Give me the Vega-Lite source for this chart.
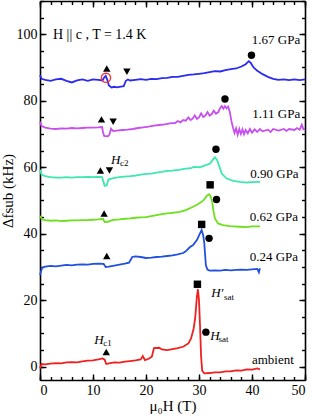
{
  "$schema": "https://vega.github.io/schema/vega-lite/v6.json",
  "width": 265,
  "height": 379,
  "autosize": "none",
  "padding": {"left": 40, "top": 1, "right": 7, "bottom": 36},
  "config": {
    "view": {"stroke": null},
    "font": "Liberation Serif, Times New Roman, DejaVu Serif, serif",
    "text": {"font": "Liberation Serif, Times New Roman, DejaVu Serif, serif"},
    "axis": {"grid": false, "domainColor": "black", "domainWidth": 1.6, "tickColor": "black", "tickWidth": 1.4, "labelColor": "black", "titleColor": "black", "labelFont": "Liberation Serif, Times New Roman, DejaVu Serif, serif", "titleFont": "Liberation Serif, Times New Roman, DejaVu Serif, serif", "labelFontSize": 14, "titleFontSize": 15, "titleFontWeight": "normal"}
  },
  "datasets": {
    "curves": [
      {"c":"ambient","h":0,"f":-0.5},{"c":"ambient","h":0.3,"f":0.8},{"c":"ambient","h":1,"f":0.7},{"c":"ambient","h":2,"f":0.9},{"c":"ambient","h":3,"f":1.1},{"c":"ambient","h":4,"f":1.0},{"c":"ambient","h":5,"f":1.3},{"c":"ambient","h":6,"f":1.4},{"c":"ambient","h":7,"f":1.3},{"c":"ambient","h":8,"f":1.6},{"c":"ambient","h":9,"f":1.8},{"c":"ambient","h":10,"f":1.9},{"c":"ambient","h":11,"f":2.2},{"c":"ambient","h":11.8,"f":2.5},{"c":"ambient","h":12.2,"f":2.1},{"c":"ambient","h":12.5,"f":0.8},{"c":"ambient","h":13,"f":1.0},{"c":"ambient","h":14,"f":1.3},{"c":"ambient","h":15,"f":1.2},{"c":"ambient","h":16,"f":1.5},{"c":"ambient","h":17,"f":1.7},{"c":"ambient","h":18,"f":1.9},{"c":"ambient","h":19,"f":2.2},{"c":"ambient","h":19.4,"f":3.2},{"c":"ambient","h":19.8,"f":2.0},{"c":"ambient","h":20.5,"f":2.4},{"c":"ambient","h":21.1,"f":3.0},{"c":"ambient","h":21.5,"f":5.6},{"c":"ambient","h":22.5,"f":5.7},{"c":"ambient","h":23,"f":5.2},{"c":"ambient","h":24,"f":5.0},{"c":"ambient","h":25,"f":5.3},{"c":"ambient","h":26,"f":5.6},{"c":"ambient","h":27,"f":6.0},{"c":"ambient","h":28,"f":7.0},{"c":"ambient","h":28.5,"f":8.5},{"c":"ambient","h":29,"f":11.5},{"c":"ambient","h":29.3,"f":15},{"c":"ambient","h":29.6,"f":21},{"c":"ambient","h":29.8,"f":23.3},{"c":"ambient","h":30.0,"f":20},{"c":"ambient","h":30.2,"f":12},{"c":"ambient","h":30.4,"f":3},{"c":"ambient","h":30.6,"f":-1.2},{"c":"ambient","h":31,"f":-2.0},{"c":"ambient","h":32,"f":-1.9},{"c":"ambient","h":33,"f":-1.7},{"c":"ambient","h":34,"f":-1.7},{"c":"ambient","h":35,"f":-1.4},{"c":"ambient","h":36,"f":-1.4},{"c":"ambient","h":37,"f":-1.1},{"c":"ambient","h":38,"f":-1.2},{"c":"ambient","h":39,"f":-0.8},{"c":"ambient","h":40,"f":-0.9},{"c":"ambient","h":41,"f":-0.5},{"c":"ambient","h":41.5,"f":-0.8},
      {"c":"0.24","h":0,"f":27.6},{"c":"0.24","h":0.4,"f":29.8},{"c":"0.24","h":1,"f":30.1},{"c":"0.24","h":2,"f":30.3},{"c":"0.24","h":3,"f":30.2},{"c":"0.24","h":4,"f":30.4},{"c":"0.24","h":5,"f":30.6},{"c":"0.24","h":6,"f":30.5},{"c":"0.24","h":7,"f":30.7},{"c":"0.24","h":8,"f":30.8},{"c":"0.24","h":9,"f":30.7},{"c":"0.24","h":10,"f":30.9},{"c":"0.24","h":11,"f":31.0},{"c":"0.24","h":12,"f":30.9},{"c":"0.24","h":12.4,"f":30.0},{"c":"0.24","h":13,"f":30.1},{"c":"0.24","h":14,"f":30.4},{"c":"0.24","h":15,"f":30.7},{"c":"0.24","h":16,"f":31.0},{"c":"0.24","h":16.8,"f":31.3},{"c":"0.24","h":17.4,"f":33.0},{"c":"0.24","h":18,"f":33.2},{"c":"0.24","h":19,"f":33.0},{"c":"0.24","h":20,"f":32.7},{"c":"0.24","h":21,"f":32.8},{"c":"0.24","h":22,"f":33.0},{"c":"0.24","h":23,"f":33.1},{"c":"0.24","h":24,"f":33.3},{"c":"0.24","h":25,"f":33.5},{"c":"0.24","h":26,"f":33.8},{"c":"0.24","h":27,"f":34.2},{"c":"0.24","h":27.5,"f":34.7},{"c":"0.24","h":28.3,"f":36.0},{"c":"0.24","h":28.9,"f":36.6},{"c":"0.24","h":29.6,"f":38.1},{"c":"0.24","h":30.1,"f":39.8},{"c":"0.24","h":30.5,"f":41.1},{"c":"0.24","h":30.8,"f":39.5},{"c":"0.24","h":31.0,"f":37.0},{"c":"0.24","h":31.3,"f":30.5},{"c":"0.24","h":31.6,"f":29.2},{"c":"0.24","h":32,"f":28.9},{"c":"0.24","h":33,"f":29.0},{"c":"0.24","h":34,"f":28.9},{"c":"0.24","h":35,"f":29.1},{"c":"0.24","h":36,"f":29.0},{"c":"0.24","h":37,"f":29.1},{"c":"0.24","h":38,"f":29.2},{"c":"0.24","h":39,"f":29.1},{"c":"0.24","h":40,"f":29.3},{"c":"0.24","h":41,"f":29.4},{"c":"0.24","h":41.3,"f":28.4},{"c":"0.24","h":41.5,"f":29.6},
      {"c":"0.62","h":0,"f":45.3},{"c":"0.62","h":0.4,"f":44.3},{"c":"0.62","h":1,"f":44.1},{"c":"0.62","h":2,"f":43.9},{"c":"0.62","h":3,"f":44.0},{"c":"0.62","h":4,"f":43.8},{"c":"0.62","h":5,"f":43.9},{"c":"0.62","h":6,"f":44.0},{"c":"0.62","h":7,"f":44.0},{"c":"0.62","h":8,"f":44.1},{"c":"0.62","h":9,"f":44.1},{"c":"0.62","h":10,"f":44.2},{"c":"0.62","h":11,"f":44.3},{"c":"0.62","h":11.9,"f":44.5},{"c":"0.62","h":12.2,"f":43.5},{"c":"0.62","h":12.8,"f":43.6},{"c":"0.62","h":13.5,"f":44.0},{"c":"0.62","h":14,"f":44.2},{"c":"0.62","h":15,"f":44.3},{"c":"0.62","h":16,"f":44.5},{"c":"0.62","h":17,"f":44.6},{"c":"0.62","h":18,"f":44.8},{"c":"0.62","h":19,"f":44.9},{"c":"0.62","h":20,"f":45.0},{"c":"0.62","h":21,"f":45.3},{"c":"0.62","h":22,"f":45.6},{"c":"0.62","h":23,"f":45.9},{"c":"0.62","h":24,"f":46.1},{"c":"0.62","h":25,"f":46.3},{"c":"0.62","h":26.4,"f":46.6},{"c":"0.62","h":27.5,"f":47.1},{"c":"0.62","h":28.9,"f":48.1},{"c":"0.62","h":29.7,"f":48.8},{"c":"0.62","h":30.5,"f":49.6},{"c":"0.62","h":31.0,"f":50.3},{"c":"0.62","h":31.4,"f":51.3},{"c":"0.62","h":31.9,"f":51.9},{"c":"0.62","h":32.2,"f":51.3},{"c":"0.62","h":32.5,"f":49.5},{"c":"0.62","h":32.7,"f":47.1},{"c":"0.62","h":33.0,"f":44.6},{"c":"0.62","h":33.6,"f":43.1},{"c":"0.62","h":34.5,"f":42.6},{"c":"0.62","h":35.8,"f":42.3},{"c":"0.62","h":37.7,"f":42.1},{"c":"0.62","h":39,"f":42.0},{"c":"0.62","h":40,"f":42.2},{"c":"0.62","h":41.5,"f":42.2},
      {"c":"0.90","h":0,"f":59.2},{"c":"0.90","h":0.3,"f":57.8},{"c":"0.90","h":1,"f":57.3},{"c":"0.90","h":2,"f":57.0},{"c":"0.90","h":3,"f":56.9},{"c":"0.90","h":4,"f":56.9},{"c":"0.90","h":5,"f":57.0},{"c":"0.90","h":6,"f":56.9},{"c":"0.90","h":7,"f":57.0},{"c":"0.90","h":8,"f":57.0},{"c":"0.90","h":9,"f":57.1},{"c":"0.90","h":10,"f":57.0},{"c":"0.90","h":11,"f":57.1},{"c":"0.90","h":11.7,"f":57.0},{"c":"0.90","h":12.0,"f":55.5},{"c":"0.90","h":12.2,"f":54.4},{"c":"0.90","h":12.6,"f":54.6},{"c":"0.90","h":12.9,"f":56.3},{"c":"0.90","h":13.5,"f":56.6},{"c":"0.90","h":14,"f":56.8},{"c":"0.90","h":15,"f":57.0},{"c":"0.90","h":16,"f":57.2},{"c":"0.90","h":17,"f":57.3},{"c":"0.90","h":18,"f":57.5},{"c":"0.90","h":19,"f":57.8},{"c":"0.90","h":20,"f":58.0},{"c":"0.90","h":21,"f":58.1},{"c":"0.90","h":22,"f":58.4},{"c":"0.90","h":23,"f":58.6},{"c":"0.90","h":24,"f":58.9},{"c":"0.90","h":25,"f":59.0},{"c":"0.90","h":26.4,"f":59.3},{"c":"0.90","h":27.5,"f":59.6},{"c":"0.90","h":28.5,"f":59.7},{"c":"0.90","h":29,"f":60.1},{"c":"0.90","h":30.2,"f":60.0},{"c":"0.90","h":31,"f":60.5},{"c":"0.90","h":32.1,"f":61.1},{"c":"0.90","h":32.6,"f":62.2},{"c":"0.90","h":33,"f":63.0},{"c":"0.90","h":33.4,"f":62.2},{"c":"0.90","h":33.8,"f":60.4},{"c":"0.90","h":34.3,"f":58.1},{"c":"0.90","h":35.2,"f":56.6},{"c":"0.90","h":36.5,"f":55.9},{"c":"0.90","h":37.7,"f":55.6},{"c":"0.90","h":39,"f":55.4},{"c":"0.90","h":40,"f":55.5},{"c":"0.90","h":41.5,"f":55.6},
      {"c":"1.11","h":0,"f":73.7},{"c":"1.11","h":0.3,"f":72.4},{"c":"1.11","h":1,"f":71.9},{"c":"1.11","h":2,"f":71.6},{"c":"1.11","h":3,"f":71.5},{"c":"1.11","h":4,"f":71.7},{"c":"1.11","h":5,"f":71.6},{"c":"1.11","h":6,"f":71.8},{"c":"1.11","h":7,"f":71.7},{"c":"1.11","h":8,"f":71.8},{"c":"1.11","h":9,"f":71.9},{"c":"1.11","h":10,"f":71.9},{"c":"1.11","h":11,"f":72.0},{"c":"1.11","h":11.7,"f":72.1},{"c":"1.11","h":11.9,"f":70.5},{"c":"1.11","h":12.1,"f":69.4},{"c":"1.11","h":12.8,"f":69.3},{"c":"1.11","h":13.1,"f":69.8},{"c":"1.11","h":13.4,"f":71.6},{"c":"1.11","h":13.8,"f":70.9},{"c":"1.11","h":14.5,"f":71.0},{"c":"1.11","h":15.5,"f":71.2},{"c":"1.11","h":16.5,"f":71.3},{"c":"1.11","h":17.5,"f":71.5},{"c":"1.11","h":18.5,"f":71.8},{"c":"1.11","h":19.5,"f":72.0},{"c":"1.11","h":20.5,"f":72.2},{"c":"1.11","h":21.5,"f":72.5},{"c":"1.11","h":22.5,"f":72.7},{"c":"1.11","h":23.5,"f":72.9},{"c":"1.11","h":24.5,"f":73.2},{"c":"1.11","h":25.5,"f":73.3},{"c":"1.11","h":26,"f":73.9},{"c":"1.11","h":26.5,"f":73.5},{"c":"1.11","h":27,"f":74.2},{"c":"1.11","h":27.5,"f":74.0},{"c":"1.11","h":28,"f":75.0},{"c":"1.11","h":28.4,"f":74.2},{"c":"1.11","h":28.8,"f":74.6},{"c":"1.11","h":29.2,"f":75.6},{"c":"1.11","h":29.6,"f":74.5},{"c":"1.11","h":30,"f":75.0},{"c":"1.11","h":30.4,"f":76.2},{"c":"1.11","h":30.8,"f":75.1},{"c":"1.11","h":31.2,"f":75.5},{"c":"1.11","h":31.6,"f":76.6},{"c":"1.11","h":32,"f":75.5},{"c":"1.11","h":32.4,"f":76.0},{"c":"1.11","h":32.8,"f":77.0},{"c":"1.11","h":33.2,"f":76.1},{"c":"1.11","h":33.6,"f":76.5},{"c":"1.11","h":34,"f":77.8},{"c":"1.11","h":34.3,"f":78.4},{"c":"1.11","h":34.6,"f":77.6},{"c":"1.11","h":34.9,"f":78.4},{"c":"1.11","h":35.2,"f":77.7},{"c":"1.11","h":35.5,"f":78.2},{"c":"1.11","h":35.8,"f":76.8},{"c":"1.11","h":36.1,"f":74.0},{"c":"1.11","h":36.4,"f":72.0},{"c":"1.11","h":36.7,"f":70.3},{"c":"1.11","h":37.0,"f":71.7},{"c":"1.11","h":37.3,"f":69.8},{"c":"1.11","h":37.6,"f":71.5},{"c":"1.11","h":37.9,"f":70.0},{"c":"1.11","h":38.2,"f":71.4},{"c":"1.11","h":38.5,"f":69.9},{"c":"1.11","h":38.8,"f":71.2},{"c":"1.11","h":39.2,"f":70.2},{"c":"1.11","h":39.6,"f":71.5},{"c":"1.11","h":40.0,"f":70.4},{"c":"1.11","h":40.5,"f":71.4},{"c":"1.11","h":41,"f":70.6},{"c":"1.11","h":41.5,"f":71.5},{"c":"1.11","h":42,"f":70.8},{"c":"1.11","h":43,"f":71.3},{"c":"1.11","h":43.5,"f":70.6},{"c":"1.11","h":44,"f":71.5},{"c":"1.11","h":45,"f":71.0},{"c":"1.11","h":46,"f":71.5},{"c":"1.11","h":46.5,"f":70.9},{"c":"1.11","h":47,"f":71.5},{"c":"1.11","h":48,"f":71.2},{"c":"1.11","h":48.5,"f":71.8},{"c":"1.11","h":49,"f":71.3},{"c":"1.11","h":49.4,"f":72.8},{"c":"1.11","h":49.7,"f":71.4},{"c":"1.11","h":50,"f":71.6},
      {"c":"1.67","h":0,"f":87.7},{"c":"1.67","h":0.3,"f":86.6},{"c":"1.67","h":1,"f":86.3},{"c":"1.67","h":2,"f":86.0},{"c":"1.67","h":3,"f":86.4},{"c":"1.67","h":4,"f":86.6},{"c":"1.67","h":5,"f":86.0},{"c":"1.67","h":6,"f":85.5},{"c":"1.67","h":7,"f":86.1},{"c":"1.67","h":8,"f":86.4},{"c":"1.67","h":9,"f":86.0},{"c":"1.67","h":10,"f":86.4},{"c":"1.67","h":11,"f":86.3},{"c":"1.67","h":11.8,"f":86.1},{"c":"1.67","h":12.1,"f":87.0},{"c":"1.67","h":12.4,"f":87.5},{"c":"1.67","h":12.7,"f":86.3},{"c":"1.67","h":13.0,"f":84.6},{"c":"1.67","h":13.5,"f":84.0},{"c":"1.67","h":14,"f":84.2},{"c":"1.67","h":14.5,"f":84.0},{"c":"1.67","h":15,"f":84.2},{"c":"1.67","h":15.8,"f":84.4},{"c":"1.67","h":16.2,"f":86.0},{"c":"1.67","h":16.6,"f":86.4},{"c":"1.67","h":17,"f":86.1},{"c":"1.67","h":18,"f":86.3},{"c":"1.67","h":19,"f":86.5},{"c":"1.67","h":20,"f":86.3},{"c":"1.67","h":21,"f":86.6},{"c":"1.67","h":22,"f":86.5},{"c":"1.67","h":23,"f":86.8},{"c":"1.67","h":24,"f":86.9},{"c":"1.67","h":25,"f":87.2},{"c":"1.67","h":26,"f":87.2},{"c":"1.67","h":27,"f":87.5},{"c":"1.67","h":28,"f":87.8},{"c":"1.67","h":29,"f":87.9},{"c":"1.67","h":30,"f":88.1},{"c":"1.67","h":31,"f":88.3},{"c":"1.67","h":32,"f":88.6},{"c":"1.67","h":33,"f":88.9},{"c":"1.67","h":34,"f":88.8},{"c":"1.67","h":35,"f":89.2},{"c":"1.67","h":36,"f":89.5},{"c":"1.67","h":37,"f":89.7},{"c":"1.67","h":38,"f":90.3},{"c":"1.67","h":38.8,"f":91.0},{"c":"1.67","h":39.4,"f":91.9},{"c":"1.67","h":39.8,"f":91.3},{"c":"1.67","h":40.3,"f":90.0},{"c":"1.67","h":41,"f":89.0},{"c":"1.67","h":42,"f":88.0},{"c":"1.67","h":43,"f":87.2},{"c":"1.67","h":44,"f":86.6},{"c":"1.67","h":45,"f":86.3},{"c":"1.67","h":46,"f":86.4},{"c":"1.67","h":47,"f":86.2},{"c":"1.67","h":48,"f":86.4},{"c":"1.67","h":49,"f":86.2},{"c":"1.67","h":50,"f":86.4}
    ],
    "markers": [
      {"h":12.6,"f":89.7,"s":"up"},{"h":11.6,"f":74.4,"s":"up"},{"h":11.4,"f":59.0,"s":"up"},{"h":12.1,"f":46.1,"s":"up"},{"h":12.6,"f":33.3,"s":"up"},{"h":12.5,"f":4.4,"s":"up"},
      {"h":16.4,"f":88.7,"s":"down"},{"h":13.8,"f":73.7,"s":"down"},{"h":13.1,"f":59.0,"s":"down"},
      {"h":39.9,"f":93.7,"s":"circle"},{"h":34.9,"f":80.5,"s":"circle"},{"h":33.2,"f":65.4,"s":"circle"},{"h":33.3,"f":50.3,"s":"circle"},{"h":31.9,"f":38.6,"s":"circle"},{"h":31.3,"f":10.4,"s":"circle"},
      {"h":32.1,"f":54.7,"s":"square"},{"h":30.5,"f":42.8,"s":"square"},{"h":29.7,"f":24.8,"s":"square"}
    ],
    "labels": [
      {"h":49.1,"f":98.2,"t":"1.67 GPa"},{"h":49.1,"f":76.0,"t":"1.11 GPa"},{"h":48.8,"f":58.1,"t":"0.90 GPa"},{"h":48.7,"f":44.9,"t":"0.62 GPa"},{"h":48.7,"f":32.9,"t":"0.24 GPa"},{"h":47.9,"f":2.1,"t":"ambient"}
    ],
    "hletters": [
      {"h":13.4,"f":62.2,"t":"H"},{"h":10.25,"f":8.1,"t":"H"},{"h":32.3,"f":22.1,"t":"H′"},{"h":32.1,"f":9.3,"t":"H"}
    ],
    "subs": [
      {"h":15.1,"f":61.4,"t":"c2"},{"h":11.95,"f":7.2,"t":"c1"},{"h":34.7,"f":21.0,"t":"sat"},{"h":33.7,"f":8.4,"t":"sat"}
    ],
    "ring": [{"h":12.45,"f":86.9}],
    "cond": [{"h":2.45,"f":99.7,"t":"H || c , T = 1.4 K"}]
  },
  "resolve": {"axis": {"x": "independent", "y": "independent"}},
  "layer": [
    {
      "data": {"name": "curves"},
      "mark": {"type": "line", "strokeWidth": 1.8},
      "encoding": {
        "x": {"field": "h", "type": "quantitative", "scale": {"domain": [0, 50], "nice": false, "zero": false},
          "axis": {"orient": "bottom", "values": [0, 10, 20, 30, 40, 50], "tickSize": -6, "labelPadding": 9, "title": "μ₀H (T)", "titlePadding": 1}},
        "y": {"field": "f", "type": "quantitative", "scale": {"domain": [-4, 110], "nice": false, "zero": false},
          "axis": {"orient": "left", "values": [0, 20, 40, 60, 80, 100], "tickSize": -6, "labelPadding": 9, "title": "Δfsub (kHz)", "titlePadding": 1}},
        "color": {"field": "c", "type": "nominal", "legend": null,
          "scale": {"domain": ["ambient", "0.24", "0.62", "0.90", "1.11", "1.67"], "range": ["#f02020", "#2050e0", "#6ee01e", "#3ce8b0", "#c84ef0", "#2a2af0"]}}
      }
    },
    {
      "data": {"name": "markers"},
      "mark": {"type": "point", "filled": true, "color": "black", "size": 55, "opacity": 1},
      "encoding": {
        "x": {"field": "h", "type": "quantitative", "axis": {"orient": "top", "values": [0, 10, 20, 30, 40, 50], "tickSize": -6, "labels": false, "title": null}},
        "y": {"field": "f", "type": "quantitative", "axis": {"orient": "right", "values": [0, 20, 40, 60, 80, 100], "tickSize": -6, "labels": false, "title": null}},
        "shape": {"field": "s", "type": "nominal", "legend": null,
          "scale": {"domain": ["up", "down", "circle", "square"], "range": ["triangle-up", "triangle-down", "circle", "square"]}}
      }
    },
    {
      "data": {"name": "labels"},
      "mark": {"type": "text", "align": "right", "baseline": "middle", "fontSize": 13, "color": "black"},
      "encoding": {
        "x": {"field": "h", "type": "quantitative", "axis": {"orient": "bottom", "values": [0,2,4,6,8,10,12,14,16,18,20,22,24,26,28,30,32,34,36,38,40,42,44,46,48,50], "tickSize": -3.5, "labels": false, "domain": false, "title": null}},
        "y": {"field": "f", "type": "quantitative", "axis": {"orient": "left", "values": [0,5,10,15,20,25,30,35,40,45,50,55,60,65,70,75,80,85,90,95,100,105,110], "tickSize": -3.5, "labels": false, "domain": false, "title": null}},
        "text": {"field": "t"}
      }
    },
    {
      "data": {"name": "hletters"},
      "mark": {"type": "text", "align": "left", "baseline": "middle", "fontSize": 13, "fontStyle": "italic", "color": "black"},
      "encoding": {
        "x": {"field": "h", "type": "quantitative", "axis": {"orient": "top", "values": [0,2,4,6,8,10,12,14,16,18,20,22,24,26,28,30,32,34,36,38,40,42,44,46,48,50], "tickSize": -3.5, "labels": false, "domain": false, "title": null}},
        "y": {"field": "f", "type": "quantitative", "axis": {"orient": "right", "values": [0,5,10,15,20,25,30,35,40,45,50,55,60,65,70,75,80,85,90,95,100,105,110], "tickSize": -3.5, "labels": false, "domain": false, "title": null}},
        "text": {"field": "t"}
      }
    },
    {
      "data": {"name": "subs"},
      "mark": {"type": "text", "align": "left", "baseline": "middle", "fontSize": 9, "color": "black"},
      "encoding": {
        "x": {"field": "h", "type": "quantitative", "axis": null},
        "y": {"field": "f", "type": "quantitative", "axis": null},
        "text": {"field": "t"}
      }
    },
    {
      "data": {"name": "ring"},
      "mark": {"type": "point", "filled": false, "stroke": "#ff3030", "strokeWidth": 1.4, "size": 85, "opacity": 1},
      "encoding": {
        "x": {"field": "h", "type": "quantitative", "axis": null},
        "y": {"field": "f", "type": "quantitative", "axis": null}
      }
    },
    {
      "data": {"name": "cond"},
      "mark": {"type": "text", "align": "left", "baseline": "middle", "fontSize": 14, "color": "black"},
      "encoding": {
        "x": {"field": "h", "type": "quantitative", "axis": null},
        "y": {"field": "f", "type": "quantitative", "axis": null},
        "text": {"field": "t"}
      }
    }
  ]
}
